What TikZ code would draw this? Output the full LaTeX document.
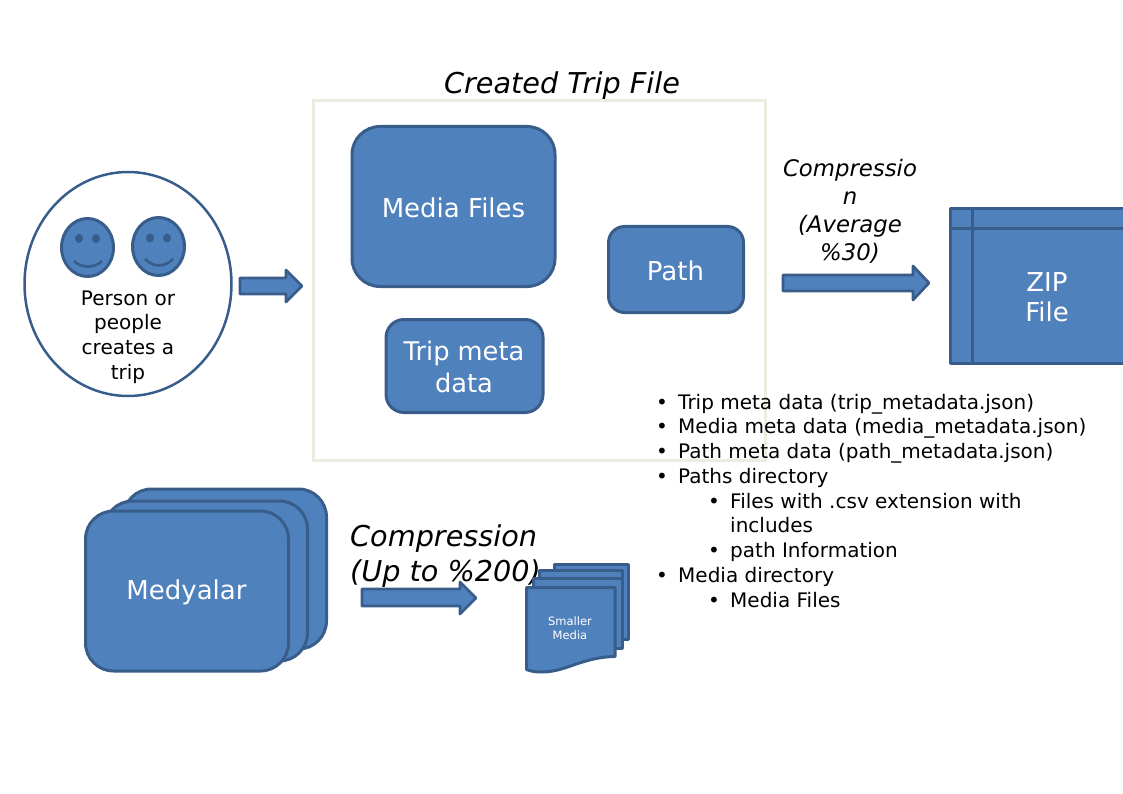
\documentclass[tikz,border=0pt]{standalone}
\usepackage{fontspec}
\setmainfont{DejaVu Sans}
\usetikzlibrary{shapes.geometric}
\definecolor{fillblue}{HTML}{4F81BD}
\definecolor{lineblue}{HTML}{385D8A}
\definecolor{framegray}{HTML}{EEECE1}
\tikzset{
  x=1pt,y=-1pt,
  shape line/.style={draw=lineblue,line width=3pt,fill=fillblue,line join=round},
  rbox/.style={shape line,rectangle,text=white,align=center,inner sep=0pt,font=\fontsize{26}{30}\selectfont},
  boxlabel/.style={text=white,align=center,inner sep=0pt,font=\fontsize{26}{30}\selectfont},
  blockarrow/.style={shape line,line width=2.7pt},
  captext/.style={font=\itshape\fontsize{22.8}{28}\selectfont,align=center,inner sep=0pt},
  bigcap/.style={font=\itshape\fontsize{28.7}{35}\selectfont,align=left,inner sep=0pt,anchor=north west},
  listtext/.style={font=\fontsize{20}{24}\selectfont,inner sep=0pt,anchor=base west},
  listdot/.style={font=\fontsize{20}{24}\selectfont,inner sep=0pt,anchor=base},
  docpage/.style={shape line,rectangle,inner sep=0pt},
}
\begin{document}
\begin{tikzpicture}
\useasboundingbox (0,0) rectangle (1123,794);
% frame
\node[draw=framegray,line width=3pt,rectangle,minimum width=452pt,minimum height=359pt,inner sep=0pt] (frame) at (539,280.5) {};
\node[captext,font=\itshape\fontsize{28.7}{32}\selectfont] (title) at (562,86) {Created Trip File};
% people
\node[ellipse,draw=lineblue,line width=2.5pt,fill=white,minimum width=207pt,minimum height=224pt,inner sep=0pt] (person) at (128,284) {};
\node[ellipse,shape line,minimum width=52pt,minimum height=58pt,inner sep=0pt] (faceA) at (87.5,247.5) {};
\node[ellipse,shape line,minimum width=52pt,minimum height=58pt,inner sep=0pt] (faceB) at (158.5,246.5) {};
\fill[lineblue] (79,238.5) ellipse (4pt and 4.5pt) (96,238.5) ellipse (4pt and 4.5pt);
\fill[lineblue] (150,238) ellipse (4pt and 4.5pt) (167,238) ellipse (4pt and 4.5pt);
\draw[lineblue,line width=2.6pt] (74,261) .. controls (82,268.5) and (94,268.5) .. (102,261);
\draw[lineblue,line width=2.6pt] (145,259) .. controls (153,267.5) and (165,267.5) .. (173,259);
\node[font=\fontsize{20}{24.7}\selectfont,align=center,inner sep=0pt] (persontext) at (128,337) {Person or\\people\\creates a\\trip};
% arrow 1
\draw[blockarrow] (240,278) -- (286,278) -- (286,270) -- (302,286) -- (286,302) -- (286,294) -- (240,294) -- cycle;
% boxes
\node[rbox,rounded corners=28pt,minimum width=203pt,minimum height=160pt] (media) at (453.5,206.5) {};
\node[boxlabel] (medialabel) at (453.5,207.5) {Media Files};
\node[rbox,rounded corners=18pt,minimum width=157pt,minimum height=93pt] (meta) at (464.5,366) {};
\node[boxlabel,font=\fontsize{25.7}{32}\selectfont] (metalabel) at (464,367) {Trip meta\\data};
\node[rbox,rounded corners=16pt,minimum width=135pt,minimum height=86pt] (path) at (676,269.5) {};
\node[boxlabel] (pathlabel) at (675.5,270.5) {Path};
% compression 1
\node[captext] (comp1) at (850,211.5) {Compressio\\n\\(Average\\\%30)};
\draw[blockarrow] (783,275) -- (913,275) -- (913,266) -- (929,283) -- (913,300) -- (913,291) -- (783,291) -- cycle;
% zip
\path[shape line] (950.5,208.5) rectangle (1125,363.5);
\draw[lineblue,line width=3pt] (950.5,228.5) -- (1125,228.5) (972,208.5) -- (972,363.5);
\node[boxlabel] (zip) at (1047,297.5) {ZIP\\File};
% media stack
\node[rbox,rounded corners=28pt,minimum width=203pt,minimum height=160pt] (m3) at (225,569) {};
\node[rbox,rounded corners=28pt,minimum width=203pt,minimum height=160pt] (m2) at (206,581) {};
\node[rbox,rounded corners=28pt,minimum width=203pt,minimum height=160pt] (m1) at (187,591) {};
\node[boxlabel] (m1label) at (186.5,592.5) {Medyalar};
% compression 2
\node[bigcap] (comp2) at (350,524) {Compression\\(Up to \%200)};
\draw[blockarrow] (362,589) -- (460,589) -- (460,582) -- (476,598) -- (460,614) -- (460,606) -- (362,606) -- cycle;
% documents
\node[docpage,minimum width=74pt,minimum height=75pt] (d4) at (591.5,601.5) {};
\node[docpage,minimum width=83pt,minimum height=70pt] (d3) at (581,605) {};
\node[docpage,minimum width=89pt,minimum height=70pt] (d2) at (578,613) {};
\path[shape line] (526.5,587.5) -- (615,587.5) -- (615,656.5) .. controls (582,657) and (566,672) .. (542,672) .. controls (535,672) and (530,671) .. (526.5,669.5) -- cycle;
\node[text=white,font=\fontsize{11.5}{14}\selectfont,align=center,inner sep=0pt] (small) at (570,628) {Smaller\\Media};
% bullets
\foreach \y/\x/\t in {
  409/678/{Trip meta data (trip\_metadata.json)},
  433.8/678/{Media meta data (media\_metadata.json)},
  458/678/{Path meta data (path\_metadata.json)},
  483/678/{Paths directory},
  508/730/{Files with .csv extension with},
  557/730/{path Information},
  582/678/{Media directory},
  607/730/{Media Files}}{
  \node[listtext] at (\x,\y) {\t};
  \node[listdot] at (\x-16,\y) {•};
}
\node[listtext] at (730,532.5) {includes};
\end{tikzpicture}
\end{document}
